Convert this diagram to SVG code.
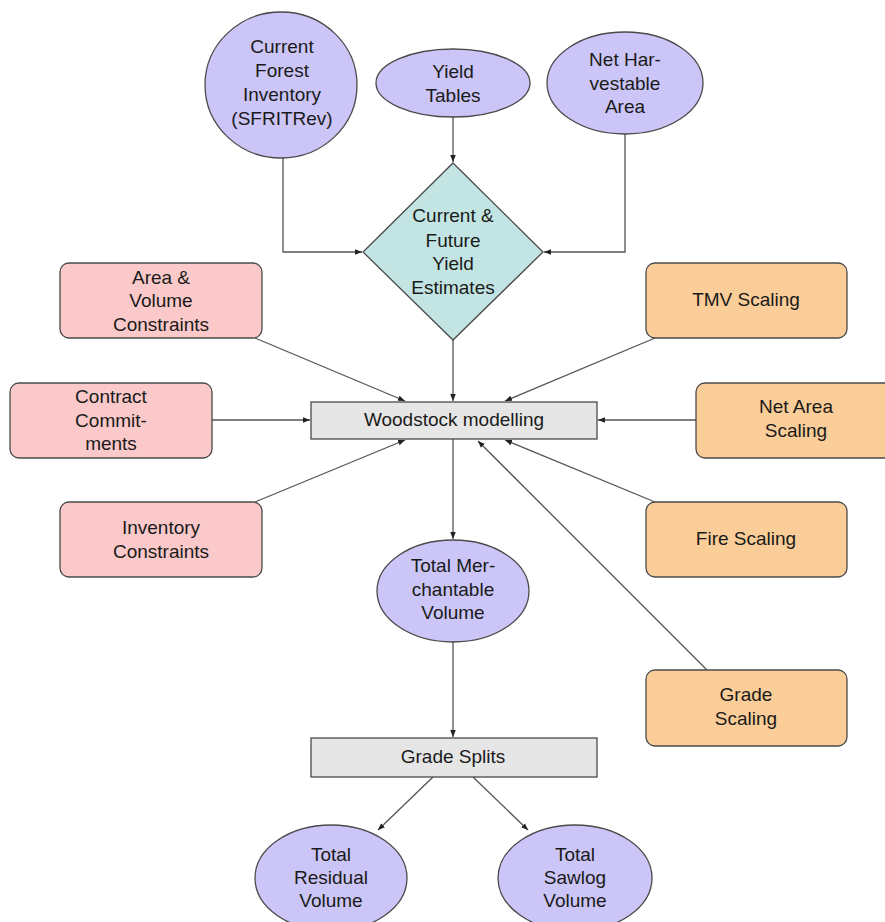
<svg xmlns="http://www.w3.org/2000/svg" width="885" height="922" viewBox="0 0 885 922">
<style>
text{font-family:"Liberation Sans",Arial,sans-serif;font-size:19px;fill:#1a1a1a;text-anchor:middle}
.ell{fill:#cbc6f7;stroke:#4a4a4a;stroke-width:1.3}
.dia{fill:#c2e5e3;stroke:#4a4a4a;stroke-width:1.3}
.pink{fill:#fbc9c9;stroke:#4a4a4a;stroke-width:1.3}
.org{fill:#fbcd98;stroke:#4a4a4a;stroke-width:1.3}
.grey{fill:#e6e6e6;stroke:#4a4a4a;stroke-width:1.3}
.c{fill:none;stroke:#555;stroke-width:1.3;marker-end:url(#ah)}
</style>
<defs>
<marker id="ah" viewBox="0 0 10 10" refX="10" refY="5" markerWidth="7" markerHeight="7" markerUnits="userSpaceOnUse" orient="auto">
<path d="M0,1 L10,5 L0,9 z" fill="#222"/>
</marker>
</defs>
<rect width="885" height="922" fill="#fff"/>
<g id="connectors">
<path class="c" d="M283,157 V252 H362"/>
<path class="c" d="M453,117 V162"/>
<path class="c" d="M625,134 V252 H544"/>
<path class="c" d="M453,340 V401"/>
<path class="c" d="M255,338 L405,401"/>
<path class="c" d="M655,338 L505,401"/>
<path class="c" d="M212,420 H310"/>
<path class="c" d="M696,420 H598"/>
<path class="c" d="M255,502 L405,440"/>
<path class="c" d="M655,502 L505,440"/>
<path class="c" d="M707,670 L478,441"/>
<path class="c" d="M453,439 V539"/>
<path class="c" d="M453,642 V737"/>
<path class="c" d="M433,777 L378,830"/>
<path class="c" d="M473,777 L528,830"/>
</g>
<g id="current-forest-inventory">
<ellipse class="ell" cx="281" cy="85" rx="76" ry="73"/>
<text x="282" y="53">Current</text><text x="282" y="77">Forest</text><text x="282" y="101">Inventory</text><text x="282" y="125">(SFRITRev)</text>
</g>
<g id="yield-tables">
<ellipse class="ell" cx="453" cy="83" rx="77" ry="34"/>
<text x="453" y="78">Yield</text><text x="453" y="102">Tables</text>
</g>
<g id="net-harvestable-area">
<ellipse class="ell" cx="625" cy="83" rx="78" ry="51"/>
<text x="625" y="66">Net Har-</text><text x="625" y="90">vestable</text><text x="625" y="113">Area</text>
</g>
<g id="yield-estimates">
<polygon class="dia" points="453,163 543,252 453,340 363,252"/>
<text x="453" y="222">Current &amp;</text><text x="453" y="247">Future</text><text x="453" y="270">Yield</text><text x="453" y="294">Estimates</text>
</g>
<g id="area-volume-constraints">
<rect class="pink" x="60" y="263" width="202" height="75" rx="9"/>
<text x="161" y="284">Area &amp;</text><text x="161" y="307">Volume</text><text x="161" y="331">Constraints</text>
</g>
<g id="contract-commitments">
<rect class="pink" x="10" y="383" width="202" height="75" rx="9"/>
<text x="111" y="403">Contract</text><text x="111" y="427">Commit-</text><text x="111" y="450">ments</text>
</g>
<g id="inventory-constraints">
<rect class="pink" x="60" y="502" width="202" height="75" rx="9"/>
<text x="161" y="534">Inventory</text><text x="161" y="558">Constraints</text>
</g>
<g id="tmv-scaling">
<rect class="org" x="646" y="263" width="201" height="75" rx="9"/>
<text x="746" y="306">TMV Scaling</text>
</g>
<g id="net-area-scaling">
<rect class="org" x="696" y="383" width="201" height="75" rx="9"/>
<text x="796" y="413">Net Area</text><text x="796" y="437">Scaling</text>
</g>
<g id="fire-scaling">
<rect class="org" x="646" y="502" width="201" height="75" rx="9"/>
<text x="746" y="545">Fire Scaling</text>
</g>
<g id="grade-scaling">
<rect class="org" x="646" y="670" width="201" height="76" rx="9"/>
<text x="746" y="701">Grade</text><text x="746" y="725">Scaling</text>
</g>
<g id="woodstock-modelling">
<rect class="grey" x="311" y="402" width="286" height="37"/>
<text x="454" y="426">Woodstock modelling</text>
</g>
<g id="total-merchantable-volume">
<ellipse class="ell" cx="453" cy="591" rx="76" ry="51"/>
<text x="453" y="572">Total Mer-</text><text x="453" y="596">chantable</text><text x="453" y="619">Volume</text>
</g>
<g id="grade-splits">
<rect class="grey" x="311" y="738" width="286" height="39"/>
<text x="453" y="763">Grade Splits</text>
</g>
<g id="total-residual-volume">
<ellipse class="ell" cx="331" cy="878" rx="76" ry="53"/>
<text x="331" y="861">Total</text><text x="331" y="884">Residual</text><text x="331" y="907">Volume</text>
</g>
<g id="total-sawlog-volume">
<ellipse class="ell" cx="575" cy="878" rx="77" ry="53"/>
<text x="575" y="861">Total</text><text x="575" y="884">Sawlog</text><text x="575" y="907">Volume</text>
</g>
</svg>
